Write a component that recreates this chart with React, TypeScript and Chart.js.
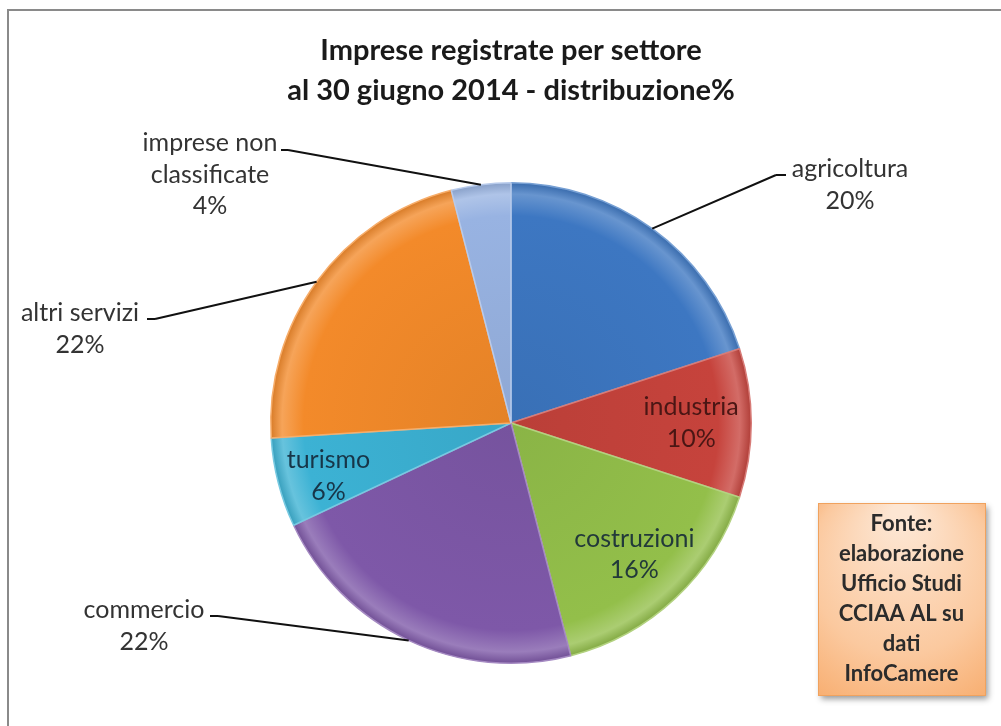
import React, { useEffect, useRef } from "react";
import { Chart, registerables } from "chart.js";

Chart.register(...registerables);

const categories = [
  "agricoltura",
  "industria",
  "costruzioni",
  "commercio",
  "turismo",
  "altri servizi",
  "imprese non classificate",
];
const values = [20, 10, 16, 22, 6, 22, 4];
const percentLabels = ["20%", "10%", "16%", "22%", "6%", "22%", "4%"];
const labelLines = [
  ["agricoltura"],
  ["industria"],
  ["costruzioni"],
  ["commercio"],
  ["turismo"],
  ["altri servizi"],
  ["imprese non", "classificate"],
];
const titleLines = ["Imprese registrate per settore", "al 30 giugno 2014 - distribuzione%"];
const sourceLines = ["Fonte:", "elaborazione", "Ufficio Studi", "CCIAA AL su", "dati", "InfoCamere"];

const sliceColors = ["#3d77c2", "#c6433c", "#93bf4a", "#7e58a8", "#3cb2d4", "#f38a2a", "#98b3e2"];

const FONT = "Lato, 'Open Sans', sans-serif";

// label layout: inside labels (radius fraction) or outside labels with anchor + leader elbow
const labelLayout: any[] = [
  { outside: true, x: 850, y: 169, elbow: [786, 175], elbowTo: [776, 175] },
  { outside: false, color: "#4a1614" },
  { outside: false, color: "#22393a" },
  { outside: true, x: 144, y: 610, elbow: [210, 616], elbowTo: [218, 616] },
  { outside: false, color: "#173548", dx: -8, dy: 8 },
  { outside: true, x: 80, y: 313, elbow: [147, 319], elbowTo: [155, 319] },
  { outside: true, x: 210, y: 143, elbow: [281, 150], elbowTo: [288, 150] },
];

function mix(hex: string, target: number, amt: number) {
  const n = parseInt(hex.slice(1), 16);
  const r = (n >> 16) & 255, g = (n >> 8) & 255, b = n & 255;
  const m = (c: number) => Math.round(c + (target - c) * amt);
  return `rgb(${m(r)},${m(g)},${m(b)})`;
}

const decorPlugin = {
  id: "decor",
  beforeDraw(chart: any) {
    const ctx = chart.ctx;
    ctx.save();
    ctx.fillStyle = "#ffffff";
    ctx.fillRect(0, 0, chart.width, chart.height);
    ctx.strokeStyle = "#8a8a8a";
    ctx.lineWidth = 2;
    ctx.strokeRect(8, 10, chart.width + 20, chart.height + 20);
    ctx.restore();
  },
  afterDatasetsDraw(chart: any) {
    const ctx = chart.ctx;
    const meta = chart.getDatasetMeta(0);
    ctx.save();
    // title
    ctx.fillStyle = "#1a1a1a";
    ctx.font = `bold 29px ${FONT}`;
    ctx.textAlign = "center";
    ctx.textBaseline = "middle";
    titleLines.forEach((t, i) => ctx.fillText(t, 511, 51 + i * 40));

    // labels
    meta.data.forEach((arc: any, i: number) => {
      const p = arc.getProps(["x", "y", "startAngle", "endAngle", "outerRadius"], true);
      const mid = (p.startAngle + p.endAngle) / 2;
      const L = labelLayout[i];
      const lines = [...labelLines[i], percentLabels[i]];
      ctx.font = `25px ${FONT}`;
      ctx.textAlign = "center";
      ctx.textBaseline = "middle";
      if (L.outside) {
        const ex = p.x + Math.cos(mid) * p.outerRadius;
        const ey = p.y + Math.sin(mid) * p.outerRadius;
        ctx.strokeStyle = "#111111";
        ctx.lineWidth = 2;
        ctx.beginPath();
        ctx.moveTo(L.elbow[0], L.elbow[1]);
        ctx.lineTo(L.elbowTo[0], L.elbowTo[1]);
        ctx.moveTo(L.elbowTo[0], L.elbowTo[1]);
        ctx.lineTo(ex, ey);
        ctx.stroke();
        ctx.fillStyle = "#333333";
        lines.forEach((t, k) => ctx.fillText(t, L.x, L.y + k * 31.5));
      } else {
        const r = p.outerRadius * 0.75;
        const cx = p.x + Math.cos(mid) * r + (L.dx || 0);
        const cy = p.y + Math.sin(mid) * r + (L.dy || 0);
        ctx.fillStyle = L.color;
        const h = (lines.length - 1) * 31.5;
        lines.forEach((t, k) => ctx.fillText(t, cx, cy - h / 2 + k * 31.5));
      }
    });

    // source box
    const bx = 818, by = 503, bw = 167, bh = 192;
    ctx.save();
    ctx.shadowColor = "rgba(0,0,0,0.4)";
    ctx.shadowBlur = 6;
    ctx.shadowOffsetX = 3;
    ctx.shadowOffsetY = 4;
    const g = ctx.createRadialGradient(bx + bw / 2, by + 10, 10, bx + bw / 2, by + bh / 2, bh * 0.75);
    g.addColorStop(0, "#fde6d3");
    g.addColorStop(0.6, "#fbc99f");
    g.addColorStop(1, "#f7a866");
    ctx.fillStyle = g;
    ctx.fillRect(bx, by, bw, bh);
    ctx.restore();
    ctx.strokeStyle = "#f0a25e";
    ctx.lineWidth = 1;
    ctx.strokeRect(bx + 0.5, by + 0.5, bw, bh);
    ctx.fillStyle = "#2b2b2b";
    ctx.font = `bold 22px ${FONT}`;
    sourceLines.forEach((t, k) => ctx.fillText(t, bx + bw / 2, by + 21 + k * 30));
    ctx.restore();
  },
};

export default function App() {
  const ref = useRef<HTMLCanvasElement | null>(null);
  useEffect(() => {
    if (!ref.current) return;
    const chart = new Chart(ref.current, {
      type: "pie",
      data: {
        labels: categories,
        datasets: [
          {
            data: values,
            backgroundColor: (c: any) => {
              const col = sliceColors[c.dataIndex % sliceColors.length];
              const a = c.chart.chartArea;
              if (!a) return col;
              const cx = (a.left + a.right) / 2, cy = (a.top + a.bottom) / 2;
              const R = Math.min(a.right - a.left, a.bottom - a.top) / 2;
              const g = c.chart.ctx.createRadialGradient(cx, cy, 0, cx, cy, R);
              g.addColorStop(0, mix(col, 0, 0.06));
              g.addColorStop(0.86, col);
              g.addColorStop(0.95, mix(col, 255, 0.22));
              g.addColorStop(1, mix(col, 0, 0.12));
              return g;
            },
            borderColor: sliceColors.map((c) => mix(c, 255, 0.3)),
            borderWidth: 1.5,
          },
        ],
      },
      options: {
        responsive: false,
        animation: false,
        layout: { padding: { left: 270, right: 249, top: 182, bottom: 62 } },
        plugins: { legend: { display: false }, tooltip: { enabled: false }, title: { display: false } },
      },
      plugins: [decorPlugin],
    });
    return () => chart.destroy();
  }, []);
  return (
    <div style={{ position: "absolute", left: 0, top: 0, width: 1001, height: 726 }}>
      <canvas ref={ref} width={1001} height={726} style={{ width: 1001, height: 726, display: "block" }} />
    </div>
  );
}
